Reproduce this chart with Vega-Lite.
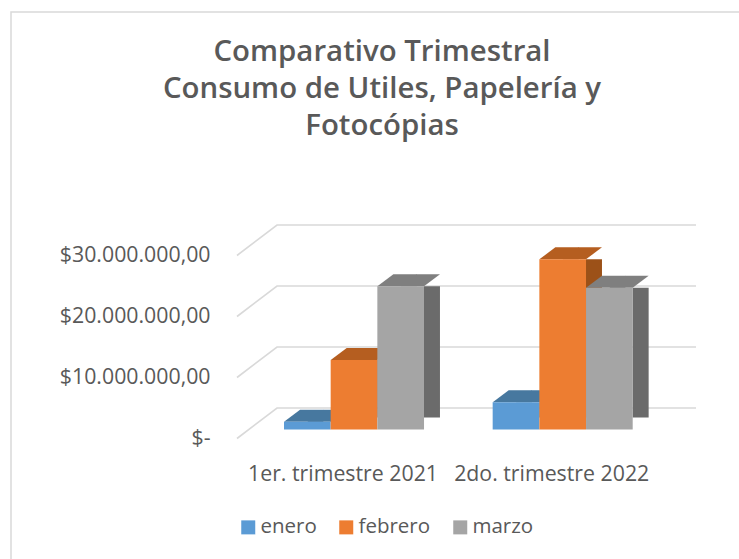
{
"$schema":"https://vega.github.io/schema/vega-lite/v6.json",
"width":729,"height":548,"padding":{"left":11,"top":12,"right":-1,"bottom":-1},
"autosize":{"type":"none"},
"background":"white",
"config":{"view":{"stroke":"#D9D9D9","strokeWidth":1.5},"font":"Open Sans"},
"title":{"text":["Comparativo Trimestral","Consumo de Utiles, Papelería y","Fotocópias"],"font":"Open Sans","fontWeight":600,"fontSize":29.4,"color":"#595959","lineHeight":37,"anchor":"start","align":"center","baseline":"top","dx":371,"offset":-129,"frame":"group"},
"datasets":{
"ventas":[
{"trimestre":"1er. trimestre 2021","mes":"enero","valor":1280000},
{"trimestre":"1er. trimestre 2021","mes":"febrero","valor":11400000},
{"trimestre":"1er. trimestre 2021","mes":"marzo","valor":23500000},
{"trimestre":"2do. trimestre 2022","mes":"enero","valor":4460000},
{"trimestre":"2do. trimestre 2022","mes":"febrero","valor":27900000},
{"trimestre":"2do. trimestre 2022","mes":"marzo","valor":23250000}],
"ticks":[{"valor":0},{"valor":10000000},{"valor":20000000},{"valor":30000000}]
},
"data":{"name":"ventas"},
"resolve":{"scale":{"color":"independent","fill":"independent","xOffset":"independent"}},
"layer":[
{"data":{"name":"ticks"},
 "mark":{"type":"point","filled":false,"size":4,"stroke":"#D9D9D9","strokeWidth":1.6,"shape":"M-138.5,9L-98.5,-21.5L320.5,-21.5","opacity":1},
 "encoding":{
  "y":{"field":"valor","type":"quantitative","scale":{"domain":[0,30000000],"range":[417.5,234.5]},
   "axis":{"values":[0,10000000,20000000,30000000],"domain":false,"ticks":false,"grid":false,"title":null,"labelFont":"Open Sans","labelFontSize":21.3,"labelColor":"#595959","labelPadding":-199,"labelOffset":9,"labelExpr":"datum.value===0?'$-':'$'+datum.value/10000000+'0.000.000,00'","encoding":{"labels":{"update":{"dx":{"signal":"datum.value===0?-10:0"}}}}}}}},
{"mark":{"type":"rule","strokeWidth":16,"y2Offset":-12},
 "encoding":{
  "x":{"field":"trimestre","type":"nominal","scale":{"range":[273,621.7],"paddingInner":0.329,"paddingOuter":0},
   "axis":{"orient":"bottom","domain":false,"ticks":false,"title":null,"labelAngle":0,"labelFont":"Open Sans","labelFontSize":21.3,"labelColor":"#595959","labelOffset":-11,"labelPadding":-97,"labelLimit":0}},
  "xOffset":{"field":"mes","type":"nominal","scale":{"type":"band","domain":["enero","febrero","marzo"],"range":[31.3,171.3],"paddingInner":0,"paddingOuter":0}},
  "y":{"field":"valor","type":"quantitative"},
  "y2":{"datum":0},
  "color":{"field":"mes","type":"nominal","legend":null,"scale":{"domain":["enero","febrero","marzo"],"range":["#3E6F9B","#9C5118","#6B6B6B"]}}}},
{"mark":{"type":"point","filled":true,"size":4,"opacity":1,"shape":"M0,0L16,-12L16,0Z","xOffset":23.3},
 "encoding":{
  "x":{"field":"trimestre","type":"nominal"},
  "xOffset":{"field":"mes","type":"nominal","scale":{"type":"band","domain":["enero","febrero","marzo"],"paddingInner":0,"paddingOuter":0}},
  "y":{"field":"valor","type":"quantitative"},
  "fill":{"field":"mes","type":"nominal","legend":null,"scale":{"domain":["enero","febrero","marzo"],"range":["#3E6F9B","#9C5118","#6B6B6B"]}}}},
{"mark":{"type":"point","filled":true,"size":4,"opacity":1,"shape":"M-23.3,0L23.3,0L39.3,-12L-7.3,-12Z"},
 "encoding":{
  "x":{"field":"trimestre","type":"nominal"},
  "xOffset":{"field":"mes","type":"nominal","scale":{"type":"band","domain":["enero","febrero","marzo"],"paddingInner":0,"paddingOuter":0}},
  "y":{"field":"valor","type":"quantitative"},
  "fill":{"field":"mes","type":"nominal","legend":null,"scale":{"domain":["enero","febrero","marzo"],"range":["#47789F","#B55E20","#7F7F7F"]}}}},
{"mark":{"type":"bar","width":{"band":1}},
 "encoding":{
  "x":{"field":"trimestre","type":"nominal"},
  "xOffset":{"field":"mes","type":"nominal","scale":{"type":"band","domain":["enero","febrero","marzo"],"paddingInner":0,"paddingOuter":0}},
  "y":{"field":"valor","type":"quantitative"},
  "color":{"field":"mes","type":"nominal","scale":{"domain":["enero","febrero","marzo"],"range":["#5B9BD5","#ED7D31","#A5A5A5"]},
   "legend":{"orient":"none","legendX":227,"legendY":505,"direction":"horizontal","title":null,"symbolType":"square","symbolSize":196,"symbolStrokeWidth":0,"labelFont":"Open Sans","labelFontSize":20.5,"labelColor":"#595959","columnPadding":19,"labelOffset":2}}}}
]
}
